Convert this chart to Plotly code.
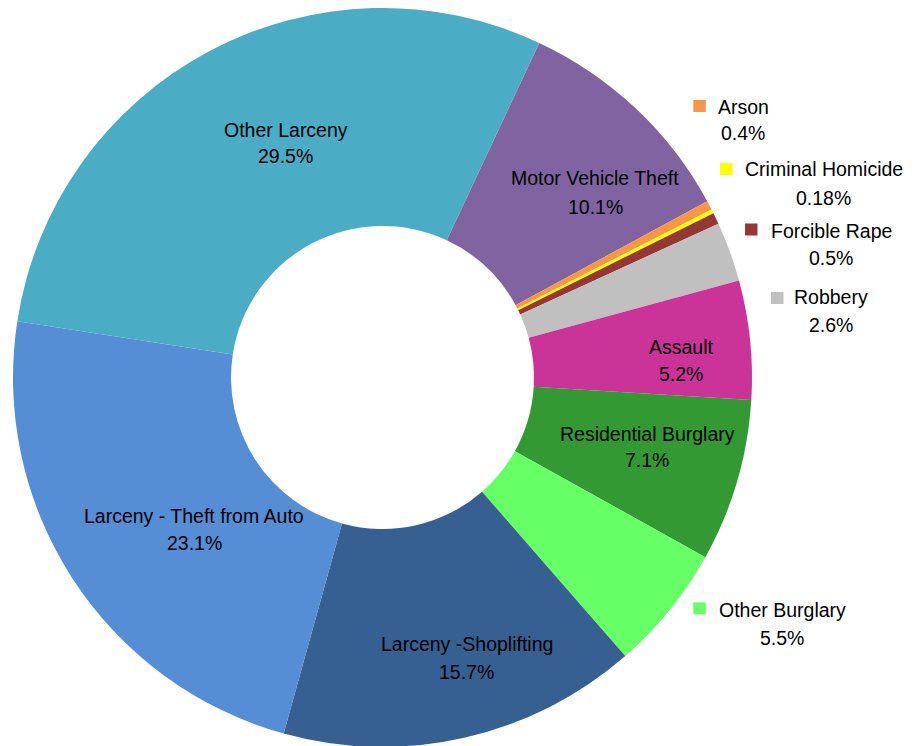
import plotly.graph_objects as go

labels = ["Motor Vehicle Theft", "Arson", "Criminal Homicide", "Forcible Rape", "Robbery",
          "Assault", "Residential Burglary", "Other Burglary", "Larceny -Shoplifting",
          "Larceny - Theft from Auto", "Other Larceny"]
values = [10.1, 0.4, 0.18, 0.5, 2.6, 5.2, 7.1, 5.5, 15.7, 23.1, 29.5]
pct_text = ["10.1%", "0.4%", "0.18%", "0.5%", "2.6%", "5.2%", "7.1%", "5.5%", "15.7%", "23.1%", "29.5%"]
colors = ["#8064A2", "#F79646", "#FFFF00", "#953735", "#C0C0C0", "#CC3399", "#339933",
          "#66FF66", "#376092", "#558ED5", "#4BACC6"]

FONT = "Liberation Sans, Arial, sans-serif"
FS = 19.5
W, H = 917, 746
OFF = 8  # page body margin


def P(x, y):
    return (x - OFF) / W, 1 - (y - OFF) / H


fig = go.Figure(go.Pie(
    labels=labels, values=values, textinfo="none",
    marker=dict(colors=colors, line=dict(width=0)),
    hole=0.41, sort=False, direction="clockwise", rotation=25.1,
    showlegend=False, hoverinfo="label+text", text=pct_text,
    domain=dict(x=[0, 749 / W], y=[7 / H, 1]),
))

# label layout: name center x, name line y, percent line y (page px)
label_pos = {
    "Motor Vehicle Theft": (595, 178, 206.5),
    "Assault": (681, 346.5, 373.5),
    "Residential Burglary": (647, 433.5, 460),
    "Larceny -Shoplifting": (466.5, 643.5, 671.5),
    "Larceny - Theft from Auto": (194, 516, 542.5),
    "Other Larceny": (285.5, 129.5, 156.5),
    "Arson": (743, 106.7, 133.3),
    "Criminal Homicide": (823.5, 169.5, 198.3),
    "Forcible Rape": (831, 230.5, 258.3),
    "Robbery": (831, 297, 325),
    "Other Burglary": (782, 610, 637.5),
}
key_pos = {  # legend key left, top (page px)
    "Arson": (693.3, 100),
    "Criminal Homicide": (720, 163),
    "Forcible Rape": (745, 223.5),
    "Robbery": (771, 292),
    "Other Burglary": (693.3, 602.3),
}

annotations = []
shapes = []
for i, name in enumerate(labels):
    cx, y1, y2 = label_pos[name]
    for txt, yy in ((name, y1), (pct_text[i], y2)):
        ax, ay = P(cx, yy)
        annotations.append(dict(
            x=ax, y=ay, xref="paper", yref="paper", xanchor="center", yanchor="middle",
            showarrow=False, text=txt,
            font=dict(family=FONT, size=FS, color="black"),
        ))
    if name in key_pos:
        kx, ky = key_pos[name]
        x0, y0 = P(kx, ky + 12)
        x1, y1_ = P(kx + 12.5, ky)
        shapes.append(dict(type="rect", xref="paper", yref="paper",
                           x0=x0, x1=x1, y0=y0, y1=y1_,
                           fillcolor=colors[i], line=dict(width=0)))

fig.update_layout(
    width=W, height=H, margin=dict(l=0, r=0, t=0, b=0),
    paper_bgcolor="white", plot_bgcolor="white",
    annotations=annotations, shapes=shapes,
)
fig.write_html("out.html")
